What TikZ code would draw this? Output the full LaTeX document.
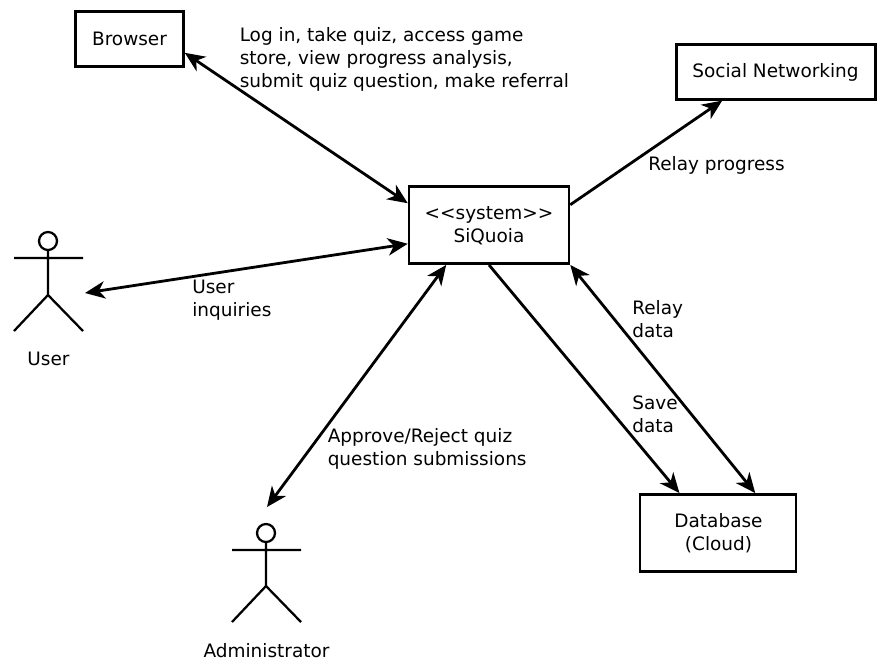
\documentclass[tikz,border=0pt]{standalone}
\usepackage{fontspec}
\setmainfont{DejaVu Sans}
\usetikzlibrary{arrows.meta}
\tikzset{x=0.75pt,y=-0.75pt,
 box/.style={draw,line width=1.9pt,inner sep=0pt},
 lbl/.style={inner sep=0pt,anchor=west,font=\fontsize{13.85pt}{17.25pt}\selectfont,align=left},
 ctr/.style={inner sep=0pt,font=\fontsize{13.85pt}{17.25pt}\selectfont,align=center},
 tipx/.tip={Stealth[length=15pt,width=13pt,inset=4.5pt]},
 conn/.style={line width=2.1pt,-tipx},
 bi/.style={line width=2.1pt,tipx-tipx},
 fig/.style={line width=1.7pt}}
\begin{document}
\begin{tikzpicture}
\useasboundingbox (0,0) rectangle (887,669);
\fill[white] (0,0) rectangle (887,669);
\node[box,minimum width=81pt,minimum height=41pt] (browser) at (129.5,39) {};
\node[ctr] (browsertxt) at (129.5,39) {Browser};
\node[box,minimum width=149pt,minimum height=41pt] (social) at (776,72) {};
\node[ctr] (socialtxt) at (775.5,72) {Social Networking};
\node[box,minimum width=120pt,minimum height=58pt] (sys) at (489,225) {};
\node[ctr] (systxt) at (489,226) {<{}<system>{}>\\SiQuoia};
\node[box,minimum width=117pt,minimum height=58pt] (db) at (718,533) {};
\node[ctr] (dbtxt) at (718.5,533) {Database\\(Cloud)};
% actors
\draw[fig] (48,241) circle (9);
\draw[fig] (48,250) -- (48,295) (14,258) -- (83,258) (48,295) -- (14,331) (48,295) -- (83,331);
\node[ctr] (user) at (48.5,359) {User};
\draw[fig] (266,533) circle (9);
\draw[fig] (266,542) -- (266,586) (232,550) -- (301,550) (266,586) -- (232,622) (266,586) -- (301,622);
\node[ctr] (admin) at (266.5,651) {Administrator};
\coordinate (ue) at (85,293);
\coordinate (ae) at (267,507);
\draw[bi] (browser.-14.7) -- (sys.165.5);
\draw[bi] (ue) -- (sys.193.2);
\draw[bi] (ae) -- (sys.223.6);
\draw[conn] (sys.14.5) -- (social.208.3);
\draw[conn] (sys.south) -- (db.134.3);
\draw[bi] (sys.south east) -- (db.47.2);
\node[lbl] (t1) at (239.5,59) {Log in, take quiz, access game\\store, view progress analysis,\\submit quiz question, make referral};
\node[lbl] (t2) at (648,165) {Relay progress};
\node[lbl] (t3) at (192,300) {User\\inquiries};
\node[lbl] (t4) at (632,319) {Relay\\data};
\node[lbl] (t5) at (632,414) {Save\\data};
\node[lbl] (t6) at (327.5,449) {Approve/Reject quiz\\question submissions};
\end{tikzpicture}
\end{document}
